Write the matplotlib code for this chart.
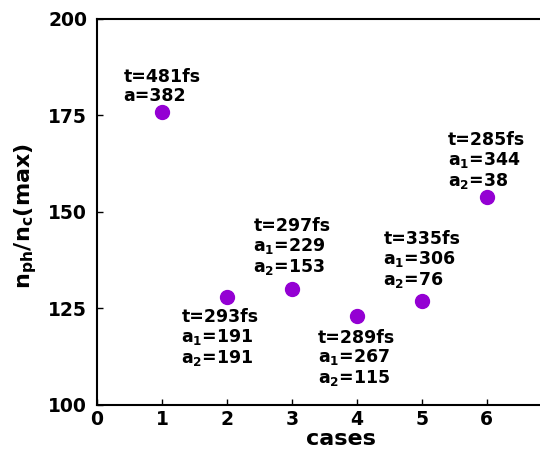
import numpy as np
import matplotlib
matplotlib.use("Agg")
import matplotlib.pyplot as plt

plt.rcParams["font.family"] = "DejaVu Sans"
plt.rcParams["font.weight"] = "bold"
plt.rcParams["mathtext.fontset"] = "custom"
plt.rcParams["mathtext.rm"] = "DejaVu Sans:bold"
plt.rcParams["mathtext.bf"] = "DejaVu Sans:bold"
plt.rcParams["mathtext.default"] = "bf"

cases = [1, 2, 3, 4, 5, 6]
ratio = [176, 128, 130, 123, 127, 154]
labels = [
    "t=481fs\na=382",
    "t=293fs\na$_1$=191\na$_2$=191",
    "t=297fs\na$_1$=229\na$_2$=153",
    "t=289fs\na$_1$=267\na$_2$=115",
    "t=335fs\na$_1$=306\na$_2$=76",
    "t=285fs\na$_1$=344\na$_2$=38",
]
# label placement: (dx, dy) in points, above/below
offs = [(0, 5, "bottom"), (-5, -8, "top"), (0, 9, "bottom"),
        (0, -9, "top"), (0, 8, "bottom"), (0, 4, "bottom")]

fig = plt.figure(figsize=(5.4, 4.5), dpi=100)
ax = fig.add_axes([0.1796, 0.1, 0.8204, 0.858])
ax.plot(cases, ratio, "o", color="#9400D3", markersize=10, clip_on=False)
for x, y, s, (dx, dy, va) in zip(cases, ratio, labels, offs):
    ax.annotate(s, (x, y), xytext=(dx, dy), textcoords="offset points",
                ha="center", va=va, multialignment="left",
                fontsize=12.5, fontweight="bold", linespacing=1.05)

ax.set_xlim(0, 6.82)
ax.set_ylim(100, 200)
ax.set_xticks(range(0, 7))
ax.set_yticks([100, 125, 150, 175, 200])
ax.tick_params(direction="in", length=4, width=1, labelsize=13.5)
ax.tick_params(axis="y", pad=7)
ax.tick_params(axis="x", pad=3.5)
for lab in ax.get_xticklabels() + ax.get_yticklabels():
    lab.set_fontweight("bold")
ax.spines["right"].set_visible(False)
for sp in ["left", "bottom", "top"]:
    ax.spines[sp].set_linewidth(1.5)
ax.set_xlabel("cases", fontsize=16, fontweight="bold")
ax.xaxis.set_label_coords(0.55, -0.062, transform=ax.transAxes)
ax.xaxis.label.set_va("top")
ax.set_ylabel("n$_{ph}$/n$_c$(max)", fontsize=16, fontweight="bold")
ax.yaxis.set_label_coords(-0.13, 0.49)

fig.savefig("out.png", dpi=100)
